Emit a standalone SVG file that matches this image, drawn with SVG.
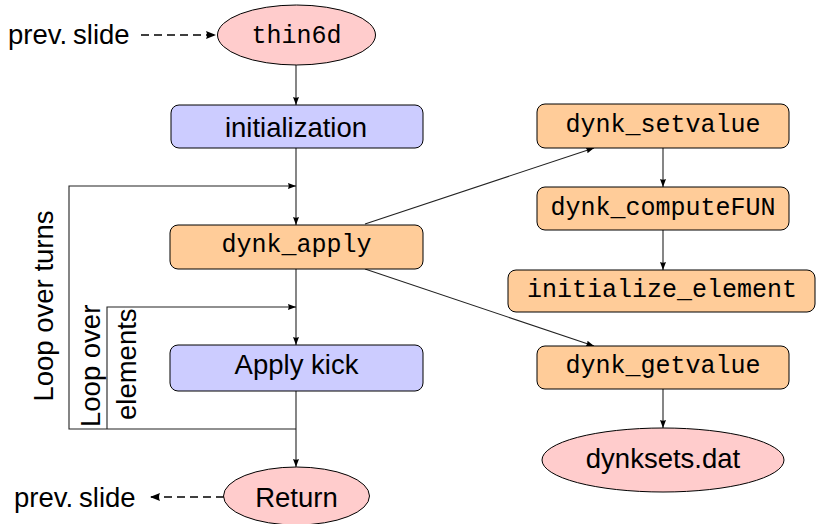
<svg xmlns="http://www.w3.org/2000/svg" width="816" height="524" viewBox="0 0 816 524">
  <style>
    .sans { font-family: "Liberation Sans", Arial, sans-serif; font-size: 27.5px; fill: #000; }
    .mono { font-family: "Liberation Mono", "Courier New", monospace; font-size: 25px; fill: #000; }
    .proc { stroke: #000; stroke-width: 1; }
    .orange { fill: #ffcc99; }
    .blue { fill: #ccccff; }
    .pink { fill: #ffcccc; stroke: #000; stroke-width: 1; }
    .edge { fill: none; stroke: #222; stroke-width: 1.1; }
    .dash { fill: none; stroke: #000; stroke-width: 1.6; stroke-dasharray: 8 5; }
  </style>
  <defs>
    <marker id="tip" viewBox="0 0 8 6" refX="8" refY="3" markerWidth="8" markerHeight="6" markerUnits="userSpaceOnUse" orient="auto">
      <path d="M0,0 L8,3 L0,6 Q1.6,3 0,0 z" fill="#000"/>
    </marker>
    <marker id="tipL" viewBox="0 0 10 8" refX="10" refY="4" markerWidth="10" markerHeight="8" markerUnits="userSpaceOnUse" orient="auto">
      <path d="M0,0 L10,4 L0,8 Q2,4 0,0 z" fill="#000"/>
    </marker>
  </defs>

  <!-- connectors -->
  <g id="connectors">
    <line class="dash" x1="141" y1="35" x2="216" y2="35" marker-end="url(#tipL)"/>
    <line class="edge" x1="296" y1="65" x2="296" y2="105" marker-end="url(#tip)"/>
    <line class="edge" x1="296" y1="148" x2="296" y2="225" marker-end="url(#tip)"/>
    <polyline class="edge" points="296,429 69,429 69,186 296,186" marker-end="url(#tip)"/>
    <line class="edge" x1="296" y1="268" x2="296" y2="345" marker-end="url(#tip)"/>
    <polyline class="edge" points="107,429 107,307 296,307" marker-end="url(#tip)"/>
    <line class="edge" x1="296" y1="391" x2="296" y2="467" marker-end="url(#tip)"/>
    <line class="dash" x1="224" y1="497" x2="150" y2="497" marker-end="url(#tipL)"/>
    <line class="edge" x1="365" y1="224" x2="594" y2="148" marker-end="url(#tip)"/>
    <line class="edge" x1="365" y1="269" x2="594" y2="346" marker-end="url(#tip)"/>
    <line class="edge" x1="663" y1="148" x2="663" y2="187" marker-end="url(#tip)"/>
    <line class="edge" x1="663" y1="230" x2="663" y2="270" marker-end="url(#tip)"/>
    <line class="edge" x1="663" y1="389" x2="663" y2="428" marker-end="url(#tip)"/>
  </g>

  <!-- loop labels -->
  <g id="loop-labels">
    <text class="sans" transform="translate(53,306) rotate(-90)" text-anchor="middle">Loop over turns</text>
    <text class="sans" transform="translate(100,427) rotate(-90)">Loop over</text>
    <text class="sans" transform="translate(136,420) rotate(-90)">elements</text>
  </g>

  <g id="prev-in">
    <text class="sans" x="8" y="44" font-size="27">prev.<tspan dx="6">slide</tspan></text>
  </g>

  <g id="thin6d">
    <ellipse class="pink" cx="296.5" cy="35" rx="79" ry="30"/>
    <text class="mono" x="296.5" y="43" text-anchor="middle">thin6d</text>
  </g>

  <g id="initialization">
    <rect class="proc blue" x="171" y="105" width="252" height="43" rx="8"/>
    <text class="sans" x="296" y="137" text-anchor="middle">initialization</text>
  </g>

  <g id="dynk_apply">
    <rect class="proc orange" x="170" y="225" width="253" height="44" rx="8"/>
    <text class="mono" x="296.5" y="252" text-anchor="middle">dynk_apply</text>
  </g>

  <g id="apply_kick">
    <rect class="proc blue" x="170" y="345" width="253" height="46" rx="8"/>
    <text class="sans" x="296.5" y="374" text-anchor="middle">Apply kick</text>
  </g>

  <g id="return">
    <ellipse class="pink" cx="296.5" cy="496" rx="73" ry="29"/>
    <text class="sans" x="296.5" y="507" text-anchor="middle">Return</text>
  </g>

  <g id="prev-out">
    <text class="sans" x="14" y="507" font-size="27">prev.<tspan dx="6">slide</tspan></text>
  </g>

  <g id="dynk_setvalue">
    <rect class="proc orange" x="537" y="104" width="252" height="44" rx="8"/>
    <text class="mono" x="663" y="132" text-anchor="middle">dynk_setvalue</text>
  </g>

  <g id="dynk_computeFUN">
    <rect class="proc orange" x="537" y="187" width="252" height="43" rx="8"/>
    <text class="mono" x="663" y="215" text-anchor="middle">dynk_computeFUN</text>
  </g>

  <g id="initialize_element">
    <rect class="proc orange" x="508" y="270" width="307" height="42" rx="8"/>
    <text class="mono" x="662" y="297" text-anchor="middle">initialize_element</text>
  </g>

  <g id="dynk_getvalue">
    <rect class="proc orange" x="537" y="346" width="252" height="43" rx="8"/>
    <text class="mono" x="663" y="373" text-anchor="middle">dynk_getvalue</text>
  </g>

  <g id="dynksets">
    <ellipse class="pink" cx="663" cy="460" rx="121" ry="32"/>
    <text class="sans" x="663" y="468" text-anchor="middle">dynksets.dat</text>
  </g>
</svg>
